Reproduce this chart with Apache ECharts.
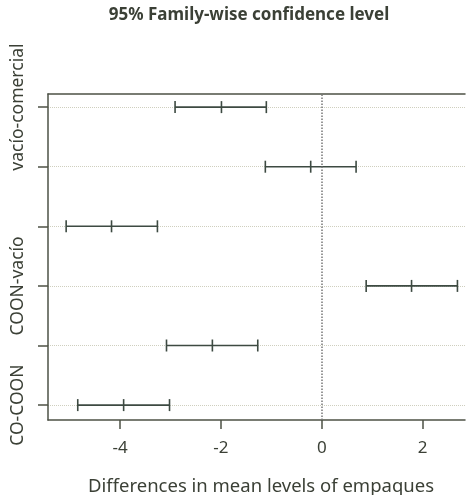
<!DOCTYPE html>
<html>
<head>
<meta charset="utf-8">
<script src="https://cdn.jsdelivr.net/npm/echarts@6/dist/echarts.min.js"></script>
<style>
  html, body { margin: 0; padding: 0; background: #fff; }
  #chart { width: 467px; height: 495px; }
</style>
</head>
<body>
<div id="chart"></div>
<script>
// comparisons, bottom row first
const comparisons = ["CO-COON", "CO-vacío", "COON-vacío", "CO-comercial", "COON-comercial", "vacío-comercial"];
const lwr = [-4.84, -3.08, 0.88, -5.07, -1.12, -2.91];
const diff = [-3.93, -2.17, 1.78, -4.17, -0.22, -1.99];
const upr = [-3.02, -1.27, 2.69, -3.26, 0.68, -1.10];
const xTicks = [-4, -2, 0, 2];
const yTicks = [1, 2, 3, 4, 5, 6];
const yLabelRows = [1, 3, 6]; // only these names fit

const ink = "#3d4a42";
const axisInk = "#4d5246";
const textColor = "#3b4036";
const font = "Noto Sans";
const xMin = -5.43;
const xMax = 2.84;

const chart = echarts.init(document.getElementById("chart"));

const rows = comparisons.map((name, i) => [lwr[i], diff[i], upr[i], i + 1]);

chart.setOption({
  animation: false,
  title: {
    text: "95% Family-wise confidence level",
    left: 244,
    textAlign: "center",
    top: 2,
    textStyle: {
      fontFamily: font,
      fontWeight: "bold",
      fontSize: 17,
      color: textColor,
    },
  },
  grid: {
    left: 48,
    top: 94,
    width: 417,
    height: 326,
    outerBoundsMode: "none",
    containLabel: false,
    show: false,
  },
  xAxis: [
    {
      type: "value",
      min: xMin,
      max: xMax,
      name: "Differences in mean levels of empaques",
      nameLocation: "middle",
      nameGap: 57,
      nameTextStyle: {
        fontFamily: font,
        fontSize: 18.5,
        color: textColor,
        padding: [0, 0, 0, 9],
      },
      axisLine: { show: true, onZero: false, lineStyle: { color: axisInk, width: 1.5 } },
      axisTick: {
        show: true,
        customValues: xTicks,
        length: 9,
        lineStyle: { color: axisInk, width: 1.5 },
      },
      axisLabel: {
        customValues: xTicks,
        margin: 20,
        fontFamily: font,
        fontSize: 17,
        color: textColor,
      },
      splitLine: { show: false },
    },
    {
      // top edge of the box; no right edge in the original
      type: "value",
      position: "top",
      min: xMin,
      max: xMax,
      axisLine: { show: true, onZero: false, lineStyle: { color: axisInk, width: 1.5 } },
      axisTick: { show: false },
      axisLabel: { show: false },
      splitLine: { show: false },
    },
  ],
  yAxis: {
    type: "value",
    min: 0.75,
    max: 6.22,
    axisLine: { show: true, onZero: false, lineStyle: { color: axisInk, width: 1.5 } },
    axisTick: {
      show: true,
      customValues: yTicks,
      length: 10,
      lineStyle: { color: axisInk, width: 1.5 },
    },
    axisLabel: {
      customValues: yLabelRows,
      rotate: 90,
      margin: 21,
      fontFamily: font,
      fontSize: 17.5,
      color: textColor,
      formatter: (v) => comparisons[Math.round(v) - 1],
    },
    splitLine: {
      show: true,
      customValues: yTicks,
      lineStyle: { color: "#cfcfbf", type: "dotted", width: 1 },
    },
  },
  series: [
    {
      type: "custom",
      data: rows,
      encode: { x: [0, 1, 2], y: 3 },
      renderItem: (params, api) => {
        const y = api.value(3);
        const a = api.coord([api.value(0), y]);
        const m = api.coord([api.value(1), y]);
        const b = api.coord([api.value(2), y]);
        const h = 6;
        const style = { stroke: ink, lineWidth: 1.6 };
        return {
          type: "group",
          children: [
            { type: "line", shape: { x1: a[0], y1: a[1], x2: b[0], y2: b[1] }, style },
            { type: "line", shape: { x1: a[0], y1: a[1] - h, x2: a[0], y2: a[1] + h }, style },
            { type: "line", shape: { x1: m[0], y1: m[1] - h, x2: m[0], y2: m[1] + h }, style },
            { type: "line", shape: { x1: b[0], y1: b[1] - h, x2: b[0], y2: b[1] + h }, style },
          ],
        };
      },
      markLine: {
        silent: true,
        symbol: "none",
        label: { show: false },
        lineStyle: { color: "#777", type: "dotted", width: 1.5 },
        data: [{ xAxis: 0 }],
      },
    },
  ],
});
</script>
</body>
</html>
